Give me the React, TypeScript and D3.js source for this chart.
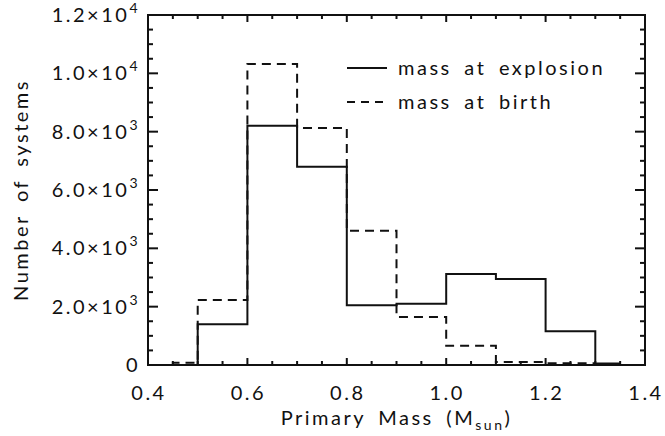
import React, { useEffect, useRef } from 'react'
import * as d3 from 'd3'

// bin edges and counts
const explosionEdges = [0.5, 0.6, 0.7, 0.8, 0.9, 1.0, 1.1, 1.2, 1.3, 1.35]
const explosionCounts = [1400, 8200, 6800, 2050, 2100, 3120, 2950, 1160, 50]
const birthEdges = [0.45, 0.5, 0.6, 0.7, 0.8, 0.9, 1.0, 1.1, 1.2, 1.3]
const birthCounts = [80, 2230, 10320, 8130, 4600, 1650, 660, 100, 60]

const xMajorTicks = [0.4, 0.6, 0.8, 1.0, 1.2, 1.4]
const yMajorTicks = [0, 2000, 4000, 6000, 8000, 10000, 12000]
const legendLabels = ['mass at explosion', 'mass at birth']

const FONT = 'Lato, "DejaVu Sans", sans-serif'
const INK = '#111'

const stepPoints = (edges: number[], counts: number[]): [number, number][] => {
  const pts: [number, number][] = [[edges[0], 0]]
  counts.forEach((c, i) => {
    pts.push([edges[i], c])
    pts.push([edges[i + 1], c])
  })
  return pts
}

const App: React.FC = () => {
  const ref = useRef<SVGSVGElement | null>(null)

  useEffect(() => {
    document.body.style.margin = '0'
    if (!ref.current) {
      return
    }
    const width = 665
    const height = 436
    const margin = { top: 15, right: 20, bottom: 71, left: 148 }
    const svg = d3.select(ref.current)
    svg.attr('viewBox', `0 0 ${width} ${height}`)
    svg.selectAll('*').remove()

    const w = width - margin.left - margin.right
    const h = height - margin.top - margin.bottom
    const x = d3.scaleLinear().domain([0.4, 1.4]).range([0, w])
    const y = d3.scaleLinear().domain([0, 12000]).range([h, 0])

    const g = svg.append('g').attr('transform', `translate(${margin.left},${margin.top})`)

    const line = d3
      .line<[number, number]>()
      .x((d) => x(d[0]))
      .y((d) => y(d[1]))

    g.append('path')
      .attr('d', line(stepPoints(birthEdges, birthCounts)))
      .attr('fill', 'none')
      .attr('stroke', INK)
      .attr('stroke-width', 2)
      .attr('stroke-dasharray', '9,6')

    g.append('path')
      .attr('d', line(stepPoints(explosionEdges, explosionCounts)))
      .attr('fill', 'none')
      .attr('stroke', INK)
      .attr('stroke-width', 2)

    // frame
    g.append('rect')
      .attr('width', w)
      .attr('height', h)
      .attr('fill', 'none')
      .attr('stroke', INK)
      .attr('stroke-width', 2)

    const xMinor = d3.range(0.4, 1.4001, 0.05)
    const yMinor = d3.range(0, 12001, 500)
    const isMajorX = (v: number) => xMajorTicks.some((t) => Math.abs(t - v) < 1e-6)
    const isMajorY = (v: number) => yMajorTicks.includes(v)

    xMinor.forEach((v) => {
      const len = isMajorX(v) ? 7 : 4
      g.append('line').attr('x1', x(v)).attr('x2', x(v)).attr('y1', h).attr('y2', h - len)
        .attr('stroke', INK).attr('stroke-width', 2)
      g.append('line').attr('x1', x(v)).attr('x2', x(v)).attr('y1', 0).attr('y2', len)
        .attr('stroke', INK).attr('stroke-width', 2)
    })
    yMinor.forEach((v) => {
      const len = isMajorY(v) ? 10 : 5
      g.append('line').attr('x1', 0).attr('x2', len).attr('y1', y(v)).attr('y2', y(v))
        .attr('stroke', INK).attr('stroke-width', 2)
      g.append('line').attr('x1', w).attr('x2', w - len).attr('y1', y(v)).attr('y2', y(v))
        .attr('stroke', INK).attr('stroke-width', 2)
    })

    const text = (sel: d3.Selection<SVGGElement, unknown, null, undefined>) =>
      sel
        .append('text')
        .attr('font-family', FONT)
        .attr('fill', INK)
        .attr('letter-spacing', 2.5)
        .attr('word-spacing', 5)

    xMajorTicks.forEach((v) => {
      text(g)
        .attr('x', x(v) + 1)
        .attr('y', h + 35)
        .attr('text-anchor', 'middle')
        .attr('font-size', 20)
        .text(d3.format('.1f')(v))
    })

    yMajorTicks.forEach((v) => {
      const t = text(g)
        .attr('x', -8)
        .attr('y', y(v) + 7)
        .attr('text-anchor', 'end')
        .attr('font-size', 20)
      if (v === 0) {
        t.text('0')
        return
      }
      const exp = Math.floor(Math.log10(v))
      const mant = v / Math.pow(10, exp)
      t.append('tspan').text(`${mant.toFixed(1)}×10`)
      t.append('tspan').attr('dy', -9).attr('font-size', 14).text(`${exp}`)
    })

    text(g)
      .attr('transform', `translate(${-120},${h / 2}) rotate(-90)`)
      .attr('text-anchor', 'middle')
      .attr('font-size', 20)
      .text('Number of systems')

    const xt = text(g)
      .attr('x', w / 2)
      .attr('y', h + 60)
      .attr('text-anchor', 'middle')
      .attr('font-size', 20)
    xt.append('tspan').text('Primary Mass (M')
    xt.append('tspan').attr('dy', 5).attr('font-size', 14).text('sun')
    xt.append('tspan').attr('dy', -5).text(')')

    legendLabels.forEach((label, i) => {
      const ly = 53 + i * 34
      g.append('line')
        .attr('x1', 199)
        .attr('x2', 239)
        .attr('y1', ly)
        .attr('y2', ly)
        .attr('stroke', INK)
        .attr('stroke-width', 2)
        .attr('stroke-dasharray', i === 0 ? null : '8,6')
      text(g).attr('x', 250).attr('y', ly + 7).attr('font-size', 20).text(label)
    })
  }, [])

  return <svg ref={ref} width={665} height={436} style={{ display: 'block' }} />
}

export default App
